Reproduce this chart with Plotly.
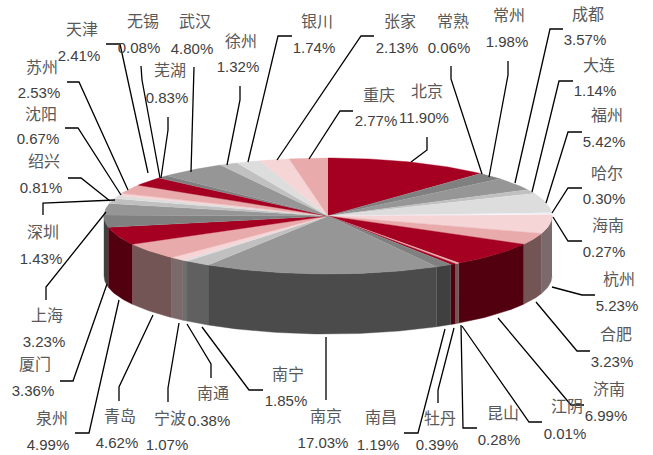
import math
import plotly.graph_objects as go

# ---- data ----
cities = ["北京","常熟","常州","成都","大连","福州","哈尔","海南","杭州","合肥","济南","江阴",
          "昆山","牡丹","南昌","南京","南宁","南通","宁波","青岛","泉州","厦门","上海","深圳",
          "绍兴","沈阳","苏州","天津","无锡","芜湖","武汉","徐州","银川","张家","重庆"]
shares = [11.90,0.06,1.98,3.57,1.14,5.42,0.30,0.27,5.23,3.23,6.99,0.01,
          0.28,0.39,1.19,17.03,1.85,0.38,1.07,4.62,4.99,3.36,3.23,1.43,
          0.81,0.67,2.53,2.41,0.08,0.83,4.80,1.32,1.74,2.13,2.77]

# ---- styling and layout ----
RED, G1, G2, G3, G4, P1, P2 = "#A50021", "#808080", "#969696", "#C0C0C0", "#DDDDDD", "#F6D5D7", "#E8AAAA"
slice_colors = [RED,G1,G1,G2,G3,G4,"#DCE6F2","#FFFFFF",P1,P2,RED,P1,
                P2,RED,G1,G2,G3,G4,P1,P2,RED,G1,G2,G3,
                G4,P1,P2,RED,RED,G1,G2,G3,G4,P1,P2]
CX, CY, RX, RY, DEPTH = 328, 216, 224, 58, 60

name_xy = [(427,93),(453,23),(509,17),(588,16),(599,67),(607,117),(607,175),(608,227),(619,281),(616,336),(609,391),(567,408),
           (503,415),(440,420),(381,419),(326,418),(288,376),(213,395),(170,420),(120,418),(52,420),(35,366),(47,317),(43,234),
           (44,163),(41,116),(42,69),(82,31),(143,23),(170,72),(195,23),(241,43),(317,23),(400,23),(379,97)]
value_xy = [(424,119),(449,49),(507,43),(585,41),(595,92),(604,143),(604,200),(604,253),(617,307),(612,363),(606,417),(565,435),
            (499,441),(437,446),(378,446),(323,444),(286,402),(209,422),(167,446),(117,444),(48,446),(33,392),(44,343),(41,260),
            (41,189),(38,140),(39,94),(79,57),(139,49),(167,99),(192,50),(238,68),(314,49),(397,49),(376,122)]
leaders = [
    [(427,137),(427,150),(411,162)], [(451,66),(451,79),(482,174)], [(508,61),(508,75),(489,177)],
    [(563,29),(550,29),(515,183)], [(573,81),(559,81),(532,192)], [(582,132),(568,132),(546,203)],
    [(582,188),(568,188),(552,213)], [(582,241),(568,241),(553,217)], [(595,295),(582,295),(552,287)],
    [(590,351),(577,351),(536,302)], [(584,405),(571,405),(498,318)], [(542,422),(529,422),(462,326)],
    [(477,428),(463,428),(461,325)], [(438,403),(438,390),(454,328)], [(404,433),(418,433),(445,329)],
    [(326,400),(326,337)], [(263,390),(249,390),(202,327)], [(211,378),(211,364),(187,324)],
    [(168,402),(168,388),(179,323)], [(119,401),(119,387),(153,315)], [(75,433),(89,433),(119,300)],
    [(60,381),(73,381),(107,284)], [(46,300),(46,287),(106,212)], [(43,215),(43,203),(115,200)],
    [(68,178),(81,178),(110,201)], [(65,128),(78,128),(121,195)], [(67,82),(79,82),(128,190)],
    [(106,44),(120,44),(148,173)], [(141,66),(142,80),(160,178)], [(168,117),(168,130),(161,178)],
    [(194,67),(191,172)], [(240,86),(240,100),(227,165)], [(292,36),(278,36),(248,162)],
    [(374,36),(361,36),(277,160)], [(353,111),(340,111),(309,159)],
]


def rim(angle, drop=0.0):
    """Point on the ellipse; angle in radians clockwise from twelve o'clock."""
    return CX + RX * math.sin(angle), CY - RY * math.cos(angle) + drop


def darken(hex_color):
    r, g, b = (int(hex_color[i:i + 2], 16) for i in (1, 3, 5))
    return f"rgb({r // 2},{g // 2},{b // 2})"


total = sum(shares)
edges = [0.0]
for s in shares:
    edges.append(edges[-1] + s / total * 2 * math.pi)

fig = go.Figure()


def polygon(points, color):
    xs, ys = zip(*points)
    fig.add_trace(go.Scatter(x=xs, y=ys, mode="lines", fill="toself", fillcolor=color,
                             line=dict(color=color, width=0.4), hoverinfo="skip", showlegend=False))


# side walls (only the front half of the cylinder is visible)
for a0, a1, col in zip(edges[:-1], edges[1:], slice_colors):
    lo, hi = max(a0, math.pi / 2), min(a1, 3 * math.pi / 2)
    if hi <= lo:
        continue
    n = max(2, int((hi - lo) / 0.02))
    arc = [lo + (hi - lo) * i / n for i in range(n + 1)]
    polygon([rim(t) for t in arc] + [rim(t, DEPTH) for t in reversed(arc)], darken(col))

# top faces
for a0, a1, col in zip(edges[:-1], edges[1:], slice_colors):
    n = max(2, int((a1 - a0) / 0.02))
    arc = [a0 + (a1 - a0) * i / n for i in range(n + 1)]
    polygon([(CX, CY)] + [rim(t) for t in arc], col)

# leader lines
lx, ly = [], []
for pts in leaders:
    for x, y in pts:
        lx.append(x)
        ly.append(y)
    lx.append(None)
    ly.append(None)
fig.add_trace(go.Scatter(x=lx, y=ly, mode="lines", line=dict(color="#000000", width=1.3),
                         hoverinfo="skip", showlegend=False))

# labels
fig.add_trace(go.Scatter(x=[p[0] for p in name_xy], y=[p[1] for p in name_xy], mode="text",
                         text=cities, textposition="middle center",
                         textfont=dict(family="Noto Sans CJK SC", size=16, color="#595959"),
                         hoverinfo="skip", showlegend=False))
fig.add_trace(go.Scatter(x=[p[0] for p in value_xy], y=[p[1] for p in value_xy], mode="text",
                         text=[f"{s:.2f}%" for s in shares], textposition="middle center",
                         textfont=dict(family="Liberation Sans", size=15, color="#404040"),
                         hoverinfo="skip", showlegend=False))

fig.update_layout(width=653, height=455, margin=dict(l=0, r=0, t=0, b=0),
                  paper_bgcolor="white", plot_bgcolor="white",
                  xaxis=dict(range=[0, 653], visible=False, fixedrange=True),
                  yaxis=dict(range=[455, 0], visible=False, fixedrange=True))
fig.write_html("out.html", config=dict(displayModeBar=False),
               post_script="document.body.style.margin='0';")
